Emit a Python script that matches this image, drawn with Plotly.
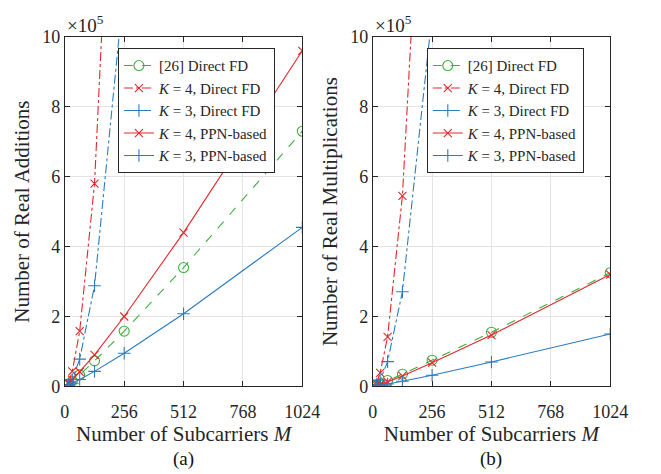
import plotly.graph_objects as go

M = [16, 32, 64, 128, 256, 512, 1024]

# Values in units of 1e5
add_ref26 = [0.06, 0.15, 0.33, 0.73, 1.58, 3.40, 7.30]
add_k4_direct = [0.10, 0.43, 1.58, 5.80, 23.5, 94.0, 376.0]
add_k3_direct = [0.05, 0.20, 0.78, 2.88, 11.5, 46.0, 184.0]
add_k4_ppn = [0.08, 0.19, 0.42, 0.90, 2.00, 4.40, 9.60]
add_k3_ppn = [0.04, 0.09, 0.20, 0.43, 0.95, 2.08, 4.55]

mul_ref26 = [0.04, 0.08, 0.17, 0.35, 0.75, 1.55, 3.25]
mul_k4_direct = [0.09, 0.39, 1.42, 5.45, 21.2, 85.0, 340.0]
mul_k3_direct = [0.05, 0.18, 0.71, 2.71, 10.65, 43.0, 172.0]
mul_k4_ppn = [0.03, 0.06, 0.13, 0.30, 0.68, 1.47, 3.20]
mul_k3_ppn = [0.015, 0.03, 0.07, 0.15, 0.32, 0.70, 1.50]

x_ticks = [0, 256, 512, 768, 1024]
y_ticks = [0, 2, 4, 6, 8, 10]

names = ["[26] Direct FD", "<i>K</i> = 4, Direct FD", "<i>K</i> = 3, Direct FD",
         "<i>K</i> = 4, PPN-based", "<i>K</i> = 3, PPN-based"]

GREEN = "#3fae3f"
RED = "#e3262b"
BLUE = "#2a7bbf"

styles = [
    dict(color=GREEN, dash="dash", symbol="circle-open", size=10),
    dict(color=RED, dash="dashdot", symbol="x-thin-open", size=8),
    dict(color=BLUE, dash="dashdot", symbol="cross-thin-open", size=9),
    dict(color=RED, dash="solid", symbol="x-thin-open", size=8),
    dict(color=BLUE, dash="solid", symbol="cross-thin-open", size=9),
]

FONT = "Liberation Serif"
TXT = "#262626"
TICK = 18
TITLE = 21
LEG = 15

fig = go.Figure()

panels = [
    ([add_ref26, add_k4_direct, add_k3_direct, add_k4_ppn, add_k3_ppn], "x", "y", "legend"),
    ([mul_ref26, mul_k4_direct, mul_k3_direct, mul_k4_ppn, mul_k3_ppn], "x2", "y2", "legend2"),
]

for series, xa, ya, lg in panels:
    for name, vals, st in zip(names, series, styles):
        fig.add_trace(go.Scatter(
            x=M, y=vals, name=name, mode="lines+markers",
            xaxis=xa, yaxis=ya, legend=lg,
            line=dict(color=st["color"], dash=st["dash"], width=1.1),
            marker=dict(symbol=st["symbol"], size=st["size"], color=st["color"],
                        line=dict(color=st["color"], width=1.1)),
        ))

W, H = 661, 474
def px_x(p):
    return p / W
def px_y(p):
    return 1 - p / H

axis_common = dict(
    range=[0, 1024], tickvals=x_ticks, ticks="inside", ticklen=5,
    showline=True, linecolor=TXT, linewidth=1, mirror="allticks",
    showgrid=True, gridcolor="#e3e3e3", gridwidth=1, zeroline=False,
    tickfont=dict(family=FONT, size=TICK, color=TXT),
    tickcolor=TXT, ticklabelstandoff=9,
)
yaxis_common = dict(
    range=[0, 10], tickvals=y_ticks, ticks="inside", ticklen=5,
    showline=True, linecolor=TXT, linewidth=1, mirror="allticks",
    showgrid=True, gridcolor="#e3e3e3", gridwidth=1, zeroline=False,
    tickfont=dict(family=FONT, size=TICK, color=TXT),
    tickcolor=TXT,
)

ydom = [px_y(393), px_y(28)]

fig.update_layout(
    width=W, height=H,
    margin=dict(l=0, r=0, t=0, b=0),
    paper_bgcolor="white", plot_bgcolor="white",
    font=dict(family=FONT, color=TXT),
    xaxis=dict(domain=[px_x(62), px_x(308)], anchor="y",
               title=dict(text="Number of Subcarriers <i>M</i>", font=dict(family=FONT, size=TITLE, color=TXT), standoff=1),
               **axis_common),
    yaxis=dict(domain=ydom, anchor="x",
               title=dict(text="Number of Real Additions", font=dict(family=FONT, size=TITLE, color=TXT), standoff=6),
               **yaxis_common),
    xaxis2=dict(domain=[px_x(381), px_x(627)], anchor="y2",
                title=dict(text="Number of Subcarriers <i>M</i>", font=dict(family=FONT, size=TITLE, color=TXT), standoff=1),
                **axis_common),
    yaxis2=dict(domain=ydom, anchor="x2",
                title=dict(text="Number of Real Multiplications", font=dict(family=FONT, size=TITLE, color=TXT), standoff=6),
                **yaxis_common),
    legend=dict(x=px_x(117), y=px_y(40), xanchor="left", yanchor="top",
                bgcolor="white", bordercolor="#262626", borderwidth=1,
                font=dict(family=FONT, size=LEG, color=TXT), tracegroupgap=0,
                itemwidth=30),
    legend2=dict(x=px_x(437), y=px_y(40), xanchor="left", yanchor="top",
                 bgcolor="white", bordercolor="#262626", borderwidth=1,
                 font=dict(family=FONT, size=LEG, color=TXT), tracegroupgap=0,
                 itemwidth=30),
    showlegend=True,
)

for xa, cx, lab in [(62, 185, "(a)"), (381, 504, "(b)")]:
    fig.add_annotation(text="×10<sup>5</sup>", x=px_x(xa), y=px_y(29), xref="paper", yref="paper",
                       xanchor="left", yanchor="bottom", showarrow=False,
                       font=dict(family=FONT, size=19, color=TXT))
    fig.add_annotation(text=lab, x=px_x(cx), y=px_y(469), xref="paper", yref="paper",
                       xanchor="center", yanchor="middle", showarrow=False,
                       font=dict(family=FONT, size=19, color="#111111"))

fig.write_html("out.html")
